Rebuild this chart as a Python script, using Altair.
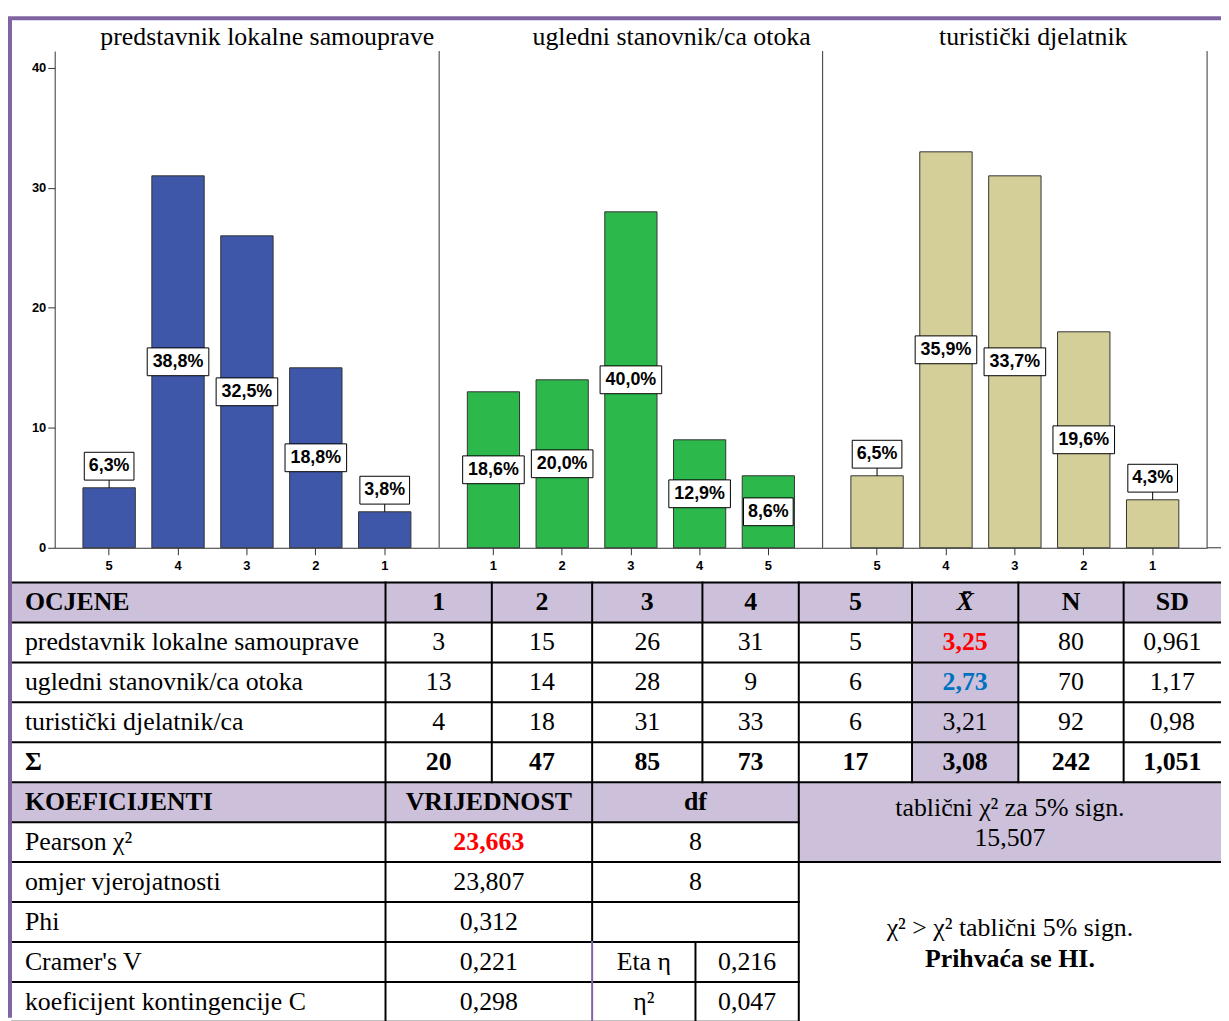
import altair as alt
import pandas as pd

# ---------------- data ----------------
groups = ["predstavnik lokalne samouprave", "ugledni stanovnik/ca otoka", "turistički djelatnik"]
grade_orders = [["5", "4", "3", "2", "1"], ["1", "2", "3", "4", "5"], ["5", "4", "3", "2", "1"]]
bar_counts = [[5, 31, 26, 15, 3], [13, 14, 28, 9, 6], [6, 33, 31, 18, 4]]
bar_pcts = [["6,3%", "38,8%", "32,5%", "18,8%", "3,8%"],
            ["18,6%", "20,0%", "40,0%", "12,9%", "8,6%"],
            ["6,5%", "35,9%", "33,7%", "19,6%", "4,3%"]]
label_place = [["above", "mid", "mid", "mid", "above"],
               ["mid", "mid", "mid", "mid", "mid"],
               ["above", "mid", "mid", "mid", "above"]]
y_ticks = [0, 10, 20, 30, 40]

head_cols = ["OCJENE", "1", "2", "3", "4", "5", "X̄", "N", "SD"]
resp_names = ["predstavnik lokalne samouprave", "ugledni stanovnik/ca otoka", "turistički djelatnik/ca"]
resp_counts = [[3, 15, 26, 31, 5], [13, 14, 28, 9, 6], [4, 18, 31, 33, 6]]
resp_means = ["3,25", "2,73", "3,21"]
resp_n = ["80", "70", "92"]
resp_sd = ["0,961", "1,17", "0,98"]
sum_row = ["Σ", "20", "47", "85", "73", "17", "3,08", "242", "1,051"]
coef_head = ["KOEFICIJENTI", "VRIJEDNOST", "df"]
coef_names = ["Pearson χ²", "omjer vjerojatnosti", "Phi", "Cramer's V", "koeficijent kontingencije C"]
coef_vals = ["23,663", "23,807", "0,312", "0,221", "0,298"]
coef_df = ["8", "8", "", "", ""]
eta_names = ["Eta η", "η²"]
eta_vals = ["0,216", "0,047"]
crit_lines = ["tablični χ² za 5% sign.", "15,507"]
concl_lines = ["χ² > χ² tablični 5% sign.", "Prihvaća se HI."]

# ---------------- layout / style ----------------
W, H = 1221, 1013
PURPLE = "#8064A2"
LAV = "#CCC0DA"
BAR_COLORS = ["#3E57A8", "#2DB84B", "#D4CF98"]
RED = "#FF0000"
BLUE = "#0070C0"
SANS = "Liberation Sans"
SERIF = "Liberation Serif"
AXC = "#333333"

PANEL_EDGES = [47, 434, 820, 1207]
Y_PIX = [540, 40]
Y_MAX = 41.4
TITLE_X = [261, 668, 1032]
TITLE_Y = 34
COL_EDGES = [4, 380, 487, 588, 699, 796, 910, 1017, 1123, W]
LOW_EDGES = [4, 380, 588, 692, 796, W]
ROW_TOP, ROW_H, N_ROWS = 575, 40.2, 11
TEXT_INSET = 13
FS = 26
MEAN_STYLE = [("b", RED), ("b", BLUE), ("n", "black")]

BOX_SIZE = 62 ** 2
hh = 14 / 31
w4 = 25 / 31
BOX5 = f"M-1,-{hh:.4f}H1V{hh:.4f}H-1Z"
BOX4 = f"M-{w4:.4f},-{hh:.4f}H{w4:.4f}V{hh:.4f}H-{w4:.4f}Z"

XID = alt.Scale(domain=[0, W], range=[0, W], nice=False, zero=False)
YID = alt.Scale(domain=[0, H], range=[0, H], nice=False, zero=False)
YROW = alt.Scale(domain=[0, N_ROWS], range=[ROW_TOP, ROW_TOP + N_ROWS * ROW_H], nice=False, zero=False)


# ---------------- bar panels ----------------
def panel(i):
    df = pd.DataFrame({"grade": grade_orders[i], "count": bar_counts[i],
                       "pct": bar_pcts[i], "place": label_place[i]})
    xs = alt.Scale(domain=grade_orders[i], range=[PANEL_EDGES[i], PANEL_EDGES[i + 1]],
                   paddingInner=0.24, paddingOuter=0.41)
    ys = alt.Scale(domain=[0, Y_MAX], range=Y_PIX, nice=False, zero=True)
    xax = alt.Axis(orient="bottom", offset=Y_PIX[0] - H, title=None, labelAngle=0,
                   labelFont=SANS, labelFontWeight="bold", labelFontSize=13, labelColor="black",
                   labelPadding=5, tickSize=7, tickColor=AXC, domainColor=AXC, grid=False)
    if i == 0:
        yax = alt.Axis(orient="left", offset=-PANEL_EDGES[0], values=y_ticks, title=None,
                       labelFont=SANS, labelFontWeight="bold", labelFontSize=13, labelColor="black",
                       labelPadding=2, tickSize=7, tickColor=AXC, domainColor=AXC, grid=False)
    else:
        yax = None
    X = alt.X("grade:N", scale=xs, axis=xax, sort=None)
    base = alt.Chart(df)
    bars = base.mark_bar(color=BAR_COLORS[i], stroke="#333333", strokeWidth=1).encode(
        x=X, y=alt.Y("count:Q", scale=ys, axis=yax))
    lab = base.transform_calculate(
        ly="datum.place == 'above' ? datum.count + 1.8 : datum.count / 2",
        n="length(datum.pct)",
        l2="datum.count + 0.64")
    leaders = lab.transform_filter("datum.place == 'above'").mark_rule(color="black").encode(
        x=X, y=alt.Y("count:Q", scale=ys, axis=yax), y2="l2:Q")
    boxes = lab.mark_point(filled=True, color="white", stroke="black", strokeWidth=1,
                           opacity=1, size=BOX_SIZE).encode(
        x=X, y=alt.Y("ly:Q", scale=ys, axis=yax),
        shape=alt.Shape("n:N", scale=alt.Scale(domain=[4, 5], range=[BOX4, BOX5]), legend=None))
    texts = lab.mark_text(font=SANS, fontWeight="bold", fontSize=18, color="black",
                          baseline="middle").encode(
        x=X, y=alt.Y("ly:Q", scale=ys, axis=yax), text="pct:N")
    return alt.layer(bars, leaders, boxes, texts)


# ---------------- frame & titles ----------------
frame_df = pd.DataFrame([
    dict(x=0, x2=W, y=7, y2=7, c=PURPLE, w=4),
    dict(x=2, x2=2, y=7, y2=H, c=PURPLE, w=4),
    dict(x=PANEL_EDGES[1], x2=PANEL_EDGES[1], y=Y_PIX[1], y2=Y_PIX[0], c=AXC, w=1),
    dict(x=PANEL_EDGES[2], x2=PANEL_EDGES[2], y=Y_PIX[1], y2=Y_PIX[0], c=AXC, w=1),
    dict(x=PANEL_EDGES[3], x2=PANEL_EDGES[3], y=Y_PIX[1], y2=Y_PIX[0], c=AXC, w=1),
    dict(x=PANEL_EDGES[3], x2=W, y=Y_PIX[0], y2=Y_PIX[0], c=AXC, w=1),
])
frame = alt.Chart(frame_df).mark_rule().encode(
    x=alt.X("x:Q", scale=XID, axis=None), x2="x2:Q",
    y=alt.Y("y:Q", scale=YID, axis=None), y2="y2:Q",
    color=alt.Color("c:N", scale=None), strokeWidth=alt.StrokeWidth("w:Q", scale=None))

titles_df = pd.DataFrame({"t": groups, "x": TITLE_X, "y": [TITLE_Y] * 3})
titles = alt.Chart(titles_df).mark_text(font=SERIF, fontSize=FS, color="black",
                                        baseline="alphabetic", align="center").encode(
    x=alt.X("x:Q", scale=XID, axis=None), y=alt.Y("y:Q", scale=YID, axis=None), text="t:N")

# ---------------- table ----------------
CE, LE = COL_EDGES, LOW_EDGES
fills_df = pd.DataFrame([
    dict(x=CE[0], x2=W, r=0, r2=1),
    dict(x=CE[6], x2=CE[7], r=1, r2=5),
    dict(x=LE[0], x2=LE[4], r=5, r2=6),
    dict(x=LE[4], x2=W, r=5, r2=7),
])
fills = alt.Chart(fills_df).mark_rect(color=LAV).encode(
    x=alt.X("x:Q", scale=XID, axis=None), x2="x2:Q",
    y=alt.Y("r:Q", scale=YROW, axis=None), y2="r2:Q")

lines = []
for e in range(0, 6):
    lines.append(dict(x=CE[0], x2=W, r=e, r2=e, c="black"))
lines.append(dict(x=CE[0], x2=LE[4], r=6, r2=6, c="black"))
lines.append(dict(x=CE[0], x2=W, r=7, r2=7, c="black"))
for e in range(8, 12):
    lines.append(dict(x=CE[0], x2=LE[4], r=e, r2=e, c="black"))
lines.append(dict(x=CE[1], x2=CE[1], r=0, r2=11, c="black"))
for xe in [CE[2], CE[4], CE[6], CE[7], CE[8]]:
    lines.append(dict(x=xe, x2=xe, r=0, r2=5, c="black"))
lines.append(dict(x=CE[3], x2=CE[3], r=0, r2=9, c="black"))
lines.append(dict(x=CE[3], x2=CE[3], r=9, r2=11, c=PURPLE))
lines.append(dict(x=CE[5], x2=CE[5], r=0, r2=11, c="black"))
lines.append(dict(x=LE[3], x2=LE[3], r=9, r2=11, c="black"))
grid = alt.Chart(pd.DataFrame(lines)).mark_rule(strokeWidth=2, strokeCap="square").encode(
    x=alt.X("x:Q", scale=XID, axis=None), x2="x2:Q",
    y=alt.Y("r:Q", scale=YROW, axis=None), y2="r2:Q",
    color=alt.Color("c:N", scale=None))

cells = []


def add(text, x0, x1, row, kind="n", color="black", align="C"):
    if text == "":
        return
    tx = x0 + TEXT_INSET if align == "L" else (x0 + x1) / 2
    cells.append(dict(t=text, tx=tx, ty=row, k=kind + align, c=color))


add(head_cols[0], CE[0], CE[1], 0.5, "b", align="L")
for j in range(1, 9):
    add(head_cols[j], CE[j], CE[j + 1], 0.5, "bi" if j == 6 else "b")
for i in range(3):
    r = 1.5 + i
    add(resp_names[i], CE[0], CE[1], r, "n", align="L")
    for j in range(5):
        add(str(resp_counts[i][j]), CE[j + 1], CE[j + 2], r)
    k, c = MEAN_STYLE[i]
    add(resp_means[i], CE[6], CE[7], r, k, c)
    add(resp_n[i], CE[7], CE[8], r)
    add(resp_sd[i], CE[8], CE[9], r)
add(sum_row[0], CE[0], CE[1], 4.5, "b", align="L")
for j in range(1, 9):
    add(sum_row[j], CE[j], CE[j + 1], 4.5, "b")
add(coef_head[0], LE[0], LE[1], 5.5, "b", align="L")
add(coef_head[1], LE[1], LE[2], 5.5, "b")
add(coef_head[2], LE[2], LE[4], 5.5, "b")
add(crit_lines[0], LE[4], LE[5], 5.65)
add(crit_lines[1], LE[4], LE[5], 6.39)
for i in range(5):
    r = 6.5 + i
    add(coef_names[i], LE[0], LE[1], r, "n", align="L")
    if i == 0:
        add(coef_vals[i], LE[1], LE[2], r, "b", RED)
    else:
        add(coef_vals[i], LE[1], LE[2], r)
    add(coef_df[i], LE[2], LE[4], r)
for i in range(2):
    add(eta_names[i], LE[2], LE[3], 9.5 + i)
    add(eta_vals[i], LE[3], LE[4], 9.5 + i)
add(concl_lines[0], LE[4], LE[5], 8.66)
add(concl_lines[1], LE[4], LE[5], 9.43, "b")

cells_df = pd.DataFrame(cells)
STYLES = {
    "nC": dict(fontWeight="normal", align="center"),
    "nL": dict(fontWeight="normal", align="left"),
    "bC": dict(fontWeight="bold", align="center"),
    "bL": dict(fontWeight="bold", align="left"),
    "biC": dict(fontWeight="bold", fontStyle="italic", align="center"),
}
text_layers = []
for k, st in STYLES.items():
    text_layers.append(
        alt.Chart(cells_df).transform_filter(f"datum.k == '{k}'").mark_text(
            font=SERIF, fontSize=FS, baseline="middle", **st).encode(
            x=alt.X("tx:Q", scale=XID, axis=None),
            y=alt.Y("ty:Q", scale=YROW, axis=None),
            text="t:N",
            color=alt.Color("c:N", scale=None)))

chart = alt.layer(
    fills, grid, *text_layers, panel(0), panel(1), panel(2), titles, frame
).resolve_scale(
    x="independent", y="independent", color="independent",
    shape="independent", strokeWidth="independent"
).properties(
    width=W, height=H, padding=0, background="white",
    autosize=alt.AutoSizeParams(type="none")
).configure_view(strokeWidth=0)

chart.save("out.html", embed_options={"renderer": "svg", "actions": False})
